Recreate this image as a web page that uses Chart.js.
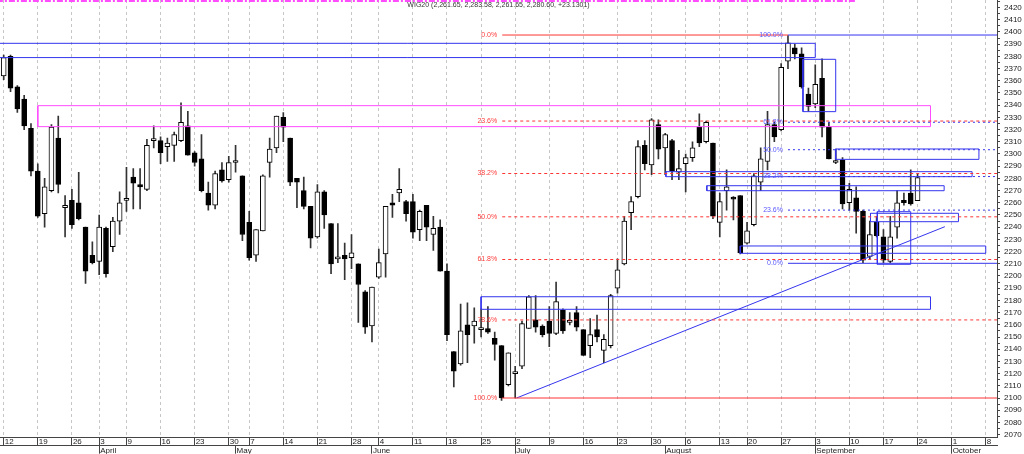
<!DOCTYPE html>
<html>
<head>
<meta charset="utf-8">
<title>WIG20</title>
<script src="https://cdn.jsdelivr.net/npm/chart.js@4.4.1/dist/chart.umd.min.js"></script>
<style>
  html, body { margin: 0; padding: 0; background: #fff; }
  #wrap { width: 1024px; height: 454px; position: relative; }
</style>
</head>
<body>
<div id="wrap"><canvas id="chart"></canvas></div>
<script>
// daily candles, one per trading day (index 0 = first candle)
const opens = [
  2364, 2380, 2355, 2345, 2321, 2286, 2251, 2270, 2313, 2256,
  2262, 2260, 2240, 2217, 2212, 2239, 2224, 2245, 2262, 2281,
  2275, 2271, 2311, 2311, 2306, 2307, 2311, 2323, 2301, 2296,
  2268, 2258, 2287, 2279, 2293, 2282, 2244, 2217, 2237, 2293,
  2305, 2330, 2313, 2280, 2270, 2257, 2232, 2269, 2243, 2214,
  2217, 2215, 2210, 2187, 2159, 2199, 2218, 2260, 2268, 2261,
  2261, 2238, 2258, 2234, 2240, 2204, 2138, 2128, 2160, 2159,
  2156, 2157, 2149, 2143, 2111, 2120, 2126, 2157, 2164, 2159,
  2163, 2153, 2172, 2162, 2170, 2156, 2143, 2156, 2139, 2143,
  2190, 2210, 2252, 2265, 2307, 2291, 2324, 2305, 2311, 2285,
  2292, 2297, 2322, 2310, 2309, 2244, 2270, 2264, 2266, 2227,
  2242, 2277, 2294, 2324, 2320, 2376, 2387, 2382, 2349, 2341,
  2362, 2322, 2293, 2295, 2260, 2264, 2253, 2216, 2244, 2232,
  2212, 2240, 2262, 2268, 2261.65
];
const highs = [
  2381, 2381, 2356, 2348, 2325, 2292, 2280, 2324, 2331, 2266,
  2271, 2285, 2240, 2228, 2250, 2240, 2248, 2269, 2289, 2288,
  2288, 2312, 2323, 2314, 2313, 2318, 2342, 2335, 2302, 2316,
  2277, 2286, 2293, 2298, 2307, 2282, 2253, 2238, 2283, 2313,
  2331, 2334, 2313, 2280, 2281, 2257, 2275, 2270, 2243, 2243,
  2227, 2234, 2210, 2188, 2191, 2222, 2257, 2267, 2288, 2262,
  2267, 2254, 2258, 2249, 2246, 2210, 2138, 2177, 2178, 2174,
  2173, 2175, 2154, 2143, 2137, 2126, 2163, 2184, 2184, 2160,
  2175, 2195, 2173, 2170, 2175, 2156, 2165, 2168, 2152, 2185,
  2214, 2249, 2265, 2311, 2311, 2329, 2328, 2317, 2312, 2303,
  2300, 2310, 2333, 2327, 2309, 2268, 2287, 2265, 2266, 2244,
  2284, 2305, 2335, 2326, 2374, 2397, 2390, 2387, 2354, 2373,
  2378, 2326, 2304, 2297, 2276, 2273, 2254, 2245, 2249, 2238,
  2249, 2270, 2268, 2287, 2283.58
];
const lows = [
  2361, 2351, 2334, 2320, 2282, 2248, 2240, 2269, 2268, 2232,
  2239, 2246, 2194, 2210, 2201, 2199, 2220, 2234, 2253, 2255,
  2255, 2270, 2305, 2292, 2294, 2294, 2310, 2299, 2290, 2269,
  2254, 2255, 2277, 2277, 2285, 2229, 2213, 2212, 2237, 2281,
  2301, 2310, 2274, 2256, 2255, 2223, 2231, 2239, 2202, 2211,
  2197, 2206, 2162, 2153, 2146, 2198, 2199, 2248, 2261, 2245,
  2231, 2229, 2229, 2221, 2204, 2147, 2109, 2127, 2129, 2145,
  2150, 2153, 2131, 2098, 2110, 2100, 2124, 2157, 2154, 2150,
  2142, 2152, 2153, 2160, 2155, 2135, 2133, 2146, 2129, 2141,
  2186, 2209, 2238, 2264, 2287, 2283, 2296, 2283, 2279, 2279,
  2269, 2294, 2306, 2309, 2247, 2232, 2254, 2246, 2218, 2226,
  2241, 2270, 2287, 2310, 2319, 2370, 2378, 2354, 2335, 2338,
  2314, 2296, 2292, 2255, 2254, 2235, 2211, 2214, 2232, 2211,
  2211, 2231, 2258, 2258, 2261.65
];
const closes = [
  2379, 2354, 2337, 2323, 2286, 2249, 2273, 2322, 2275, 2258,
  2242, 2247, 2204, 2211, 2240, 2202, 2245, 2260, 2263, 2276,
  2273, 2307, 2312, 2301, 2309, 2316, 2326, 2299, 2293, 2270,
  2258, 2284, 2278, 2293, 2293, 2234, 2215, 2238, 2282, 2304,
  2331, 2322, 2277, 2277, 2257, 2231, 2269, 2250, 2210, 2214,
  2214, 2219, 2193, 2158, 2191, 2211, 2257, 2258, 2271, 2251,
  2236, 2253, 2240, 2239, 2204, 2152, 2122, 2155, 2152, 2163,
  2157, 2154, 2144, 2100, 2137, 2120, 2161, 2183, 2158, 2152,
  2153, 2179, 2155, 2162, 2158, 2135, 2152, 2150, 2148, 2184,
  2205, 2245, 2261, 2306, 2292, 2328, 2304, 2316, 2286, 2288,
  2297, 2305, 2309, 2326, 2249, 2261, 2273, 2263, 2219, 2237,
  2282, 2296, 2324, 2314, 2371, 2391, 2382, 2355, 2339, 2357,
  2322, 2296, 2294, 2259, 2271, 2253, 2213, 2234, 2233, 2213,
  2232, 2260, 2260, 2259, 2280.60
];

// axis labels (positions in trading-day index)
const weekTicks = [0, 5, 10, 14, 18, 23, 28, 33, 36, 41, 46, 51, 55, 60, 65, 70,
  75, 80, 85, 90, 95, 100, 105, 109, 114, 119, 124, 129, 134, 139, 144];
const weekLabels = ['12', '19', '26', '3', '9', '16', '23', '30', '7', '14', '21', '28', '4', '11', '18', '25',
  '2', '9', '16', '23', '30', '6', '13', '20', '27', '3', '10', '17', '24', '1', '8'];
const monthTicks = [14, 34, 54, 75, 97, 119, 139];
const monthLabels = ['April', 'May', 'June', 'July', 'August', 'September', 'October'];

const chartTitle = 'WIG20 (2,261.65, 2,283.58, 2,261.65, 2,280.60, +23.1301)';

// fibonacci retracement (red): July low -> August high
const redFibLabels = ['0.0%', '23.6%', '38.2%', '50.0%', '61.8%', '78.6%', '100.0%'];
const redFibLevels = [2397.5, 2327, 2284, 2248.5, 2213.5, 2164, 2100];
const redFibStart = 73.1;
// fibonacci retracement (blue): August high -> September low
const blueFibLabels = ['100.0%', '61.8%', '50.0%', '38.2%', '23.6%', '0.0%'];
const blueFibLevels = [2397.5, 2326, 2303.5, 2281.5, 2254, 2210.4];
const blueFibStart = 115;

// support / resistance zones: [from, to, low, high]
const blueZones = [
  [-2, 119, 2379, 2390.7],
  [117.2, 122, 2334.7, 2377.6],
  [122, 143, 2295.6, 2304.1],
  [97.1, 142, 2281.4, 2285.5],
  [103.1, 137.9, 2269.9, 2274],
  [127.1, 140, 2244.5, 2251.4],
  [128.1, 133, 2209.6, 2252.7],
  [108, 144, 2218.6, 2224.6],
  [70, 135.9, 2172.7, 2183]
];
const pinkZones = [[5, 135.9, 2322.4, 2339.6]];
const trendFrom = [75.2, 2100];
const trendTo = [138, 2240.4];
const topBand = [-1, 125.1, 2425.4];

const X_MIN = -0.543, X_MAX = 145.65;
const BLUE = '#3434ee', RED = '#ff3434', PINK = '#ff4cff';

Chart.defaults.font.family = '"Liberation Sans", Arial, sans-serif';
Chart.defaults.font.size = 8;
Chart.defaults.color = '#222';

function lineSet(points, color, dash, width) {
    return {
        type: 'line',
        data: points,
        xAxisID: 'x',
        yAxisID: 'y',
        borderColor: color,
        borderWidth: width || 1,
        borderDash: dash || [],
        pointRadius: 0,
        pointHitRadius: 0,
        fill: false,
        tension: 0,
        order: 0,
    };
}

function hLine(x1, x2, v, color, dash) {
    return lineSet([{ x: x1, y: v }, { x: x2, y: v }], color, dash);
}

function box(zone, color) {
    const [x1, x2, lo, hi] = zone;
    return lineSet([
        { x: x1, y: lo }, { x: x2, y: lo }, { x: x2, y: hi }, { x: x1, y: hi }, { x: x1, y: lo }
    ], color);
}

const wickData = opens.map((o, i) => ({ x: i, y: [lows[i], highs[i]] }));
const bodyData = opens.map((o, i) => ({ x: i, y: [o, closes[i]] }));
const bodyFill = opens.map((o, i) => closes[i] >= o ? '#ffffff' : '#000000');

const datasets = [
    {
        type: 'bar', data: wickData, xAxisID: 'x', yAxisID: 'y',
        backgroundColor: '#333', borderWidth: 0, barThickness: 1,
        grouped: false, order: 2,
    },
    {
        type: 'bar', data: bodyData, xAxisID: 'x', yAxisID: 'y',
        backgroundColor: bodyFill, borderColor: '#000', borderWidth: 1,
        borderSkipped: false, barThickness: 5, minBarLength: 2,
        grouped: false, order: 1,
    },
];

// red fib lines
redFibLevels.forEach((v, i) => {
    if (i === 0) datasets.push(hLine(redFibStart, blueFibStart, v, RED));
    else if (i === redFibLevels.length - 1) datasets.push(hLine(redFibStart, 147, v, RED));
    else datasets.push(hLine(redFibStart, 147, v, RED, [3, 3]));
});
// blue fib lines
blueFibLevels.forEach((v, i) => {
    const solid = i === 0 || i === blueFibLevels.length - 1;
    datasets.push(hLine(blueFibStart, 147, v, BLUE, solid ? [] : [2, 3]));
});
blueZones.forEach(z => datasets.push(box(z, BLUE)));
pinkZones.forEach(z => datasets.push(box(z, PINK)));
datasets.push(lineSet([{ x: trendFrom[0], y: trendFrom[1] }, { x: trendTo[0], y: trendTo[1] }], BLUE));
datasets.push(lineSet([{ x: topBand[0], y: topBand[2] }, { x: topBand[1], y: topBand[2] }], PINK, [6, 2, 2, 2], 2));

const textPlugin = {
    id: 'chartText',
    afterDatasetsDraw(chart) {
        const { ctx, chartArea, scales: { x, y } } = chart;
        ctx.save();
        ctx.font = '7px "Liberation Sans", Arial, sans-serif';
        ctx.textBaseline = 'middle';
        ctx.textAlign = 'right';

        ctx.fillStyle = '#ff3b3b';
        const rx = x.getPixelForValue(redFibStart) - 5;
        redFibLevels.forEach((v, i) => ctx.fillText(redFibLabels[i], rx, y.getPixelForValue(v)));

        ctx.fillStyle = '#5a5aff';
        const bx = x.getPixelForValue(blueFibStart) - 5;
        blueFibLevels.forEach((v, i) => ctx.fillText(blueFibLabels[i], bx, y.getPixelForValue(v)));

        ctx.textAlign = 'center';
        ctx.fillStyle = '#333';
        ctx.fillText(chartTitle, (chartArea.left + chartArea.right) / 2, 5);
        ctx.restore();
    }
};

new Chart(document.getElementById('chart'), {
    type: 'bar',
    data: { datasets },
    options: {
        responsive: true,
        maintainAspectRatio: false,
        animation: false,
        events: [],
        layout: { padding: 0, autoPadding: false },
        plugins: {
            legend: { display: false },
            tooltip: { enabled: false },
            title: { display: false },
        },
        scales: {
            x: {
                type: 'linear', position: 'bottom', min: X_MIN, max: X_MAX,
                offset: false, weight: 0,
                afterBuildTicks: s => { s.ticks = weekTicks.map(v => ({ value: v })); },
                afterFit: s => { s.height = 8.4; s.paddingLeft = 0; s.paddingRight = 0; },
                grid: {
                    offset: false, drawOnChartArea: true, color: '#c6c6c6',
                    tickColor: '#444', tickLength: 8, tickBorderDash: [],
                },
                border: { display: true, color: '#444', dash: [3, 3] },
                ticks: {
                    autoSkip: false, maxRotation: 0, align: 'start', padding: -8,
                    labelOffset: 1, color: '#222',
                    callback: (v, i) => weekLabels[i],
                },
            },
            x2: {
                type: 'linear', axis: 'x', position: 'bottom', min: X_MIN, max: X_MAX,
                offset: false, weight: 1,
                afterBuildTicks: s => { s.ticks = monthTicks.map(v => ({ value: v })); },
                afterFit: s => { s.height = 8.3; s.paddingLeft = 0; s.paddingRight = 0; },
                grid: {
                    offset: false, drawOnChartArea: false, tickColor: '#444', tickLength: 8,
                },
                border: { display: true, color: '#444' },
                ticks: {
                    autoSkip: false, maxRotation: 0, align: 'start', padding: -8,
                    labelOffset: 1, color: '#222',
                    callback: (v, i) => monthLabels[i],
                },
            },
            y: {
                type: 'linear', position: 'right', min: 2067.8, max: 2426.2,
                afterFit: s => { s.width = 27; s.paddingTop = 0; s.paddingBottom = 0; },
                grid: { drawOnChartArea: false, tickColor: '#444', tickLength: 3 },
                border: { display: true, color: '#444' },
                ticks: {
                    stepSize: 5, includeBounds: false, autoSkip: false, padding: 4,
                    color: '#222',
                    callback: v => (v % 10 === 0 ? String(v) : ''),
                },
            },
        },
    },
    plugins: [textPlugin],
});
</script>
</body>
</html>
